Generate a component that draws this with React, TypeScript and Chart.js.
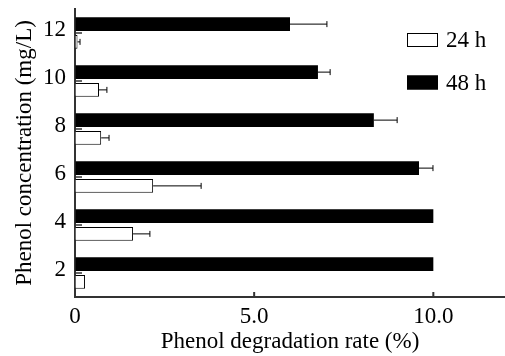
import React, { useEffect, useRef } from "react";
import { Chart, registerables } from "chart.js";

Chart.register(...registerables);

const categories = ["2", "4", "6", "8", "10", "12"];
const series24Label = "24 h";
const series48Label = "48 h";
const values24 = [0.28, 1.62, 2.18, 0.73, 0.67, 0.07];
const errors24 = [0, 0.47, 1.34, 0.22, 0.22, 0.07];
const values48 = [10.0, 10.0, 9.6, 8.34, 6.78, 6.0];
const errors48 = [0, 0, 0.39, 0.65, 0.34, 1.03];
const xTicks = [0, 5, 10];
const xMin = 0;
const xMax = 12;

const FONT = "'Liberation Serif', 'Times New Roman', serif";
const FSIZE = 23;

const errorBarPlugin = {
  id: "errorBars",
  afterDatasetsDraw(chart: any) {
    const ctx = chart.ctx;
    const xScale = chart.scales.x;
    chart.data.datasets.forEach((ds: any, di: number) => {
      const meta = chart.getDatasetMeta(di);
      const errs: number[] = ds.errors || [];
      meta.data.forEach((bar: any, i: number) => {
        const e = errs[i];
        if (!e) return;
        const v = ds.data[i];
        const x0 = xScale.getPixelForValue(v);
        const x1 = xScale.getPixelForValue(v + e);
        const y = bar.y;
        ctx.save();
        ctx.strokeStyle = "#000";
        ctx.lineWidth = 1;
        ctx.beginPath();
        ctx.moveTo(x0, y);
        ctx.lineTo(x1, y);
        ctx.moveTo(x1, y - 3);
        ctx.lineTo(x1, y + 3);
        ctx.stroke();
        ctx.restore();
      });
    });
  },
};

const innerTicksPlugin = {
  id: "innerTicks",
  afterDraw(chart: any) {
    const ctx = chart.ctx;
    const { x, y } = chart.scales;
    const area = chart.chartArea;
    ctx.save();
    ctx.strokeStyle = "#333";
    ctx.lineWidth = 1.5;
    ctx.beginPath();
    y.ticks.forEach((_t: any, i: number) => {
      const py = y.getPixelForTick(i);
      ctx.moveTo(area.left, py);
      ctx.lineTo(area.left + 7, py);
    });
    ctx.stroke();
    ctx.lineWidth = 2;
    ctx.beginPath();
    x.ticks.forEach((t: any) => {
      if (t.value === 0) return;
      const px = x.getPixelForValue(t.value);
      ctx.moveTo(px, area.bottom);
      ctx.lineTo(px, area.bottom - 5);
    });
    ctx.stroke();
    ctx.restore();
  },
};

const legendPlugin = {
  id: "customLegend",
  afterDraw(chart: any) {
    const ctx = chart.ctx;
    const area = chart.chartArea;
    const items = [
      { label: series24Label, fill: "#fff" },
      { label: series48Label, fill: "#000" },
    ];
    const bx = area.right - 98;
    const by = area.top + 24;
    ctx.save();
    ctx.font = `${FSIZE}px ${FONT}`;
    ctx.textBaseline = "middle";
    ctx.fillStyle = "#000";
    items.forEach((it, i) => {
      const cy = by + i * 42.5 + 7;
      ctx.fillStyle = it.fill;
      ctx.fillRect(bx, cy - 7, 31, 14);
      ctx.strokeStyle = "#000";
      ctx.lineWidth = 1;
      ctx.strokeRect(bx + 0.5, cy - 6.5, 30, 13);
      ctx.fillStyle = "#000";
      ctx.fillText(it.label, bx + 39, cy + 1);
    });
    ctx.restore();
  },
};

export default function App() {
  const ref = useRef<HTMLCanvasElement | null>(null);

  useEffect(() => {
    if (!ref.current) return;
    const chart = new Chart(ref.current, {
      type: "bar",
      data: {
        labels: categories,
        datasets: [
          {
            label: series48Label,
            data: values48,
            errors: errors48,
            backgroundColor: "#000",
            borderColor: "#000",
            borderWidth: 0,
            categoryPercentage: 0.74,
            barPercentage: 0.78,
          } as any,
          {
            label: series24Label,
            data: values24,
            errors: errors24,
            backgroundColor: "#fff",
            borderColor: "#000",
            borderWidth: 1,
            categoryPercentage: 0.74,
            barPercentage: 0.78,
          } as any,
        ],
      },
      options: {
        indexAxis: "y",
        animation: false,
        responsive: true,
        maintainAspectRatio: false,
        layout: { padding: { top: 9, right: 0, left: 0, bottom: 0 } },
        plugins: {
          legend: { display: false },
          tooltip: { enabled: false },
        },
        scales: {
          x: {
            type: "linear",
            min: xMin,
            max: xMax,
            afterBuildTicks: (scale: any) => {
              scale.ticks = xTicks.map((v) => ({ value: v }));
            },
            afterFit: (scale: any) => {
              scale.height = 59;
              scale.paddingLeft = 0;
              scale.paddingRight = 0;
            },
            grid: { display: true, drawOnChartArea: false, drawTicks: false },
            border: { display: true, color: "#333", width: 2 },
            ticks: {
              padding: 6,
              color: "#000",
              font: { family: FONT, size: FSIZE },
              callback: (v: any) => (Number(v) === 0 ? "0" : Number(v).toFixed(1)),
            },
            title: {
              display: true,
              text: "Phenol degradation rate (%)",
              color: "#000",
              font: { family: FONT, size: FSIZE },
              padding: { top: 0, bottom: 0 },
            },
          },
          y: {
            type: "category",
            reverse: true,
            offset: true,
            afterFit: (scale: any) => {
              scale.width = 75;
              scale.paddingTop = 0;
              scale.paddingBottom = 0;
            },
            grid: { display: true, drawOnChartArea: false, drawTicks: false, offset: false },
            border: { display: true, color: "#333", width: 2 },
            ticks: {
              padding: 9,
              labelOffset: -3,
              color: "#000",
              font: { family: FONT, size: FSIZE },
            },
            title: {
              display: true,
              text: "Phenol concentration (mg/L)",
              color: "#000",
              font: { family: FONT, size: FSIZE },
              padding: { top: 11, bottom: 0 },
            },
          },
        },
      } as any,
      plugins: [errorBarPlugin, innerTicksPlugin, legendPlugin],
    });
    return () => chart.destroy();
  }, []);

  return (
    <div style={{ position: "fixed", left: 0, top: 0, width: 505, height: 356, background: "#fff" }}>
      <canvas ref={ref} />
    </div>
  );
}
